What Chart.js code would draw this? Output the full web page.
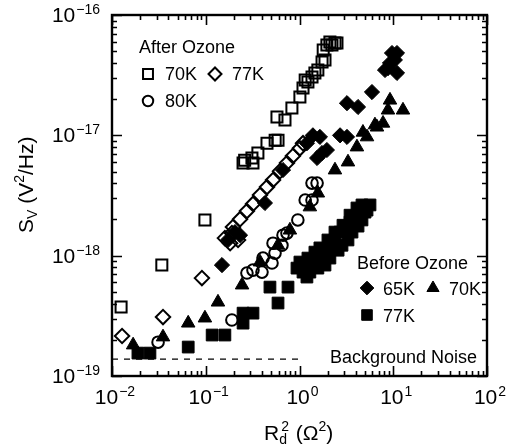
<!DOCTYPE html>
<html>
<head>
<meta charset="utf-8">
<script src="https://cdn.jsdelivr.net/npm/chart.js@4/dist/chart.umd.min.js"></script>
<style>
html, body { margin: 0; padding: 0; background: #fff; }
</style>
</head>
<body>
<canvas id="myChart" width="506" height="446"></canvas>
<script>
'use strict'

// After ozone, 70K (open squares)
const after70x = [0.0125, 0.034, 0.098, 0.25, 0.26, 0.311, 0.319, 0.36, 0.45, 0.55, 0.59, 0.575, 0.70, 0.83, 1.01, 1.09, 1.15, 1.23, 1.36, 1.46, 1.57, 1.74, 1.87, 1.79, 1.96, 2.11, 2.22, 2.39, 2.51];
const after70y = [3.74e-19, 8.35e-19, 1.98e-18, 5.89e-18, 6.2e-18, 6.48e-18, 5.89e-18, 7.13e-18, 8.6e-18, 9.1e-18, 9.1e-18, 1.42e-17, 1.34e-17, 1.69e-17, 2.08e-17, 2.47e-17, 2.88e-17, 2.77e-17, 3.05e-17, 3.30e-17, 3.49e-17, 4.06e-17, 4.23e-17, 5.12e-17, 5.64e-17, 5.97e-17, 5.64e-17, 5.85e-17, 5.85e-17];

// After ozone, 77K (open diamonds)
const after77x = [0.0128, 0.035, 0.091, 0.16, 0.182, 0.19, 0.195, 0.221, 0.232, 0.275, 0.319, 0.379, 0.45, 0.522, 0.62, 0.735, 0.85, 1.01, 1.09];
const after77y = [2.15e-19, 3.09e-19, 6.51e-19, 1.40e-18, 1.27e-18, 1.54e-18, 1.73e-18, 1.35e-18, 2.01e-18, 2.35e-18, 2.69e-18, 3.19e-18, 3.72e-18, 4.25e-18, 5.04e-18, 5.89e-18, 6.73e-18, 7.8e-18, 8.6e-18];

// After ozone, 80K (open circles)
const after80x = [0.031, 0.19, 0.275, 0.319, 0.398, 0.408, 0.509, 0.522, 0.548, 0.65, 0.667, 0.735, 0.96, 1.15, 1.36, 1.36, 1.54];
const after80y = [1.91e-19, 2.92e-19, 7.17e-19, 7.59e-19, 7.3e-19, 9.55e-19, 8.68e-19, 1.27e-18, 1.05e-18, 1.22e-18, 1.48e-18, 1.54e-18, 1.98e-18, 2.90e-18, 2.90e-18, 4.01e-18, 4.01e-18];

// Before ozone, 65K (filled diamonds)
const before65x = [0.149, 0.173, 0.205, 0.232, 0.428, 0.667, 1.20, 1.39, 1.65, 1.54, 1.96, 1.74, 2.71, 3.21, 3.21, 4.21, 5.93, 8.17, 9.23, 10.96, 9.70, 10.96, 8.79, 10.4];
const before65y = [8.35e-19, 1.35e-18, 1.57e-18, 1.48e-18, 2.74e-18, 5.15e-18, 8.6e-18, 1.0e-17, 9.7e-18, 6.48e-18, 7.55e-18, 7.13e-18, 1.0e-17, 9.7e-18, 1.85e-17, 1.72e-17, 2.29e-17, 3.49e-17, 3.99e-17, 3.30e-17, 4.83e-17, 4.83e-17, 3.62e-17, 4.23e-17];

// Before ozone, 70K (filled triangles)
const before70x = [0.0168, 0.035, 0.065, 0.098, 0.135, 0.244, 0.379, 0.59, 0.79, 1.29, 1.57, 2.39, 3.29, 4.10, 4.75, 5.25, 6.38, 6.71, 7.78, 9.23, 8.79, 12.7];
const before70y = [1.81e-19, 2.11e-19, 2.75e-19, 3.03e-19, 4.11e-19, 5.70e-19, 8.85e-19, 1.22e-18, 1.63e-18, 2.54e-18, 3.31e-18, 5.15e-18, 6.0e-18, 8.0e-18, 1.06e-17, 9.7e-18, 1.22e-17, 1.17e-17, 1.26e-17, 1.96e-17, 1.62e-17, 1.62e-17];

// Before ozone, 77K (filled squares)
const before77x = [0.0189, 0.0254, 0.065, 0.117, 0.160, 0.25, 0.319, 0.25, 0.484, 0.59, 0.754, 0.94, 1.09, 1.29, 1.20, 1.15, 1.36, 1.57, 1.57, 1.74, 1.87, 1.96, 2.11, 2.22, 2.39, 2.58, 2.71, 2.84, 3.06, 3.29, 3.46, 3.63, 3.91, 4.21, 4.42, 4.64, 5.0, 5.25, 5.65,
                   1.01, 1.23, 1.46, 1.65, 2.01, 2.39, 2.91, 3.46, 4.10, 4.64];
const before77y = [1.55e-19, 1.55e-19, 1.74e-19, 2.19e-19, 2.19e-19, 3.33e-19, 3.33e-19, 2.75e-19, 5.48e-19, 4.04e-19, 5.48e-19, 7.88e-19, 7.3e-19, 7.3e-19, 6.64e-19, 8.35e-19, 8.85e-19, 9.55e-19, 7.88e-19, 9.9e-19, 8.35e-19, 1.11e-18, 9.55e-19, 1.22e-18, 1.35e-18, 1.11e-18, 1.57e-18, 1.22e-18, 1.70e-18, 1.35e-18, 1.90e-18, 1.57e-18, 2.05e-18, 1.76e-18, 2.26e-18, 1.98e-18, 2.30e-18, 2.39e-18, 2.64e-18,
                   8.85e-19, 9.55e-19, 1.07e-18, 1.16e-18, 1.35e-18, 1.57e-18, 1.79e-18, 2.17e-18, 2.49e-18, 2.64e-18];

// Background noise level
const noiseX = [0.01, 1.0];
const noiseY = [1.38e-19, 1.38e-19];

// Tick labels (powers of ten)
const xTickVals = [0.01, 0.1, 1, 10, 100];
const xTickExp = ['\u22122', '\u22121', '0', '1', '2'];
const yTickVals = [1e-19, 1e-18, 1e-17, 1e-16];
const yTickExp = ['\u221219', '\u221218', '\u221217', '\u221216'];

const FONT = '"Liberation Sans", Arial, Helvetica, sans-serif';

const pts = (xs, ys) => xs.map((x, i) => ({x: x, y: ys[i]}));
const CLEAR = 'rgba(0,0,0,0)';

const seriesStyle = {
  after70:  {pointStyle: 'rect',     radius: 7.8, fill: CLEAR,  border: 2},
  after77:  {pointStyle: 'rectRot',  radius: 7.2, fill: CLEAR,  border: 2},
  after80:  {pointStyle: 'circle',   radius: 5.8, fill: CLEAR,  border: 2},
  before65: {pointStyle: 'rectRot',  radius: 7.6, fill: '#000', border: 1},
  before70: {pointStyle: 'triangle', radius: 7.8, fill: '#000', border: 1},
  before77: {pointStyle: 'rect',     radius: 8.3, fill: '#000', border: 1}
};

const mkSet = (key, xs, ys) => {
  const s = seriesStyle[key];
  return {
    label: key,
    data: pts(xs, ys),
    pointStyle: s.pointStyle,
    pointRadius: s.radius,
    pointHoverRadius: s.radius,
    pointBackgroundColor: s.fill,
    pointBorderColor: '#000',
    pointBorderWidth: s.border,
    showLine: false
  };
};

const drawPow = (ctx, x, y, exp, align, big, small) => {
  ctx.font = big + 'px ' + FONT;
  const wb = ctx.measureText('10').width;
  ctx.font = small + 'px ' + FONT;
  const we = ctx.measureText(exp).width;
  const tot = wb + we + 1;
  let x0 = x;
  if (align === 'center') x0 = x - tot / 2;
  if (align === 'right') x0 = x - tot;
  ctx.textAlign = 'left';
  ctx.textBaseline = 'alphabetic';
  ctx.font = big + 'px ' + FONT;
  ctx.fillText('10', x0, y);
  ctx.font = small + 'px ' + FONT;
  ctx.fillText(exp, x0 + wb + 1, y - 8);
};

const marker = (ctx, key, x, y) => {
  const s = seriesStyle[key];
  ctx.save();
  ctx.fillStyle = s.fill;
  ctx.strokeStyle = '#000';
  ctx.lineWidth = s.border;
  Chart.helpers.drawPoint(ctx, {pointStyle: s.pointStyle, radius: s.radius * 0.9, rotation: 0, borderWidth: s.border}, x, y);
  ctx.restore();
};

const framePlugin = {
  id: 'frame',
  beforeDatasetsDraw(chart) {
    const {ctx, chartArea: a, scales: {x, y}} = chart;
    ctx.save();
    ctx.strokeStyle = '#000';
    ctx.lineWidth = 1.6;
    // minor / major ticks, inward on all four sides
    ctx.beginPath();
    for (let d = 0; d < xTickVals.length; d++) {
      for (let m = 1; m < 10; m++) {
        const v = xTickVals[d] * m;
        if (v > xTickVals[xTickVals.length - 1]) break;
        const px = Math.round(x.getPixelForValue(v)) + 0.5;
        const len = m === 1 ? 10 : 5;
        ctx.moveTo(px, a.bottom); ctx.lineTo(px, a.bottom - len);
        ctx.moveTo(px, a.top); ctx.lineTo(px, a.top + len);
      }
    }
    for (let d = 0; d < yTickVals.length; d++) {
      for (let m = 1; m < 10; m++) {
        const v = yTickVals[d] * m;
        if (v > yTickVals[yTickVals.length - 1] * 1.0001) break;
        const py = Math.round(y.getPixelForValue(v)) + 0.5;
        const len = m === 1 ? 10 : 5;
        ctx.moveTo(a.left, py); ctx.lineTo(a.left + len, py);
        ctx.moveTo(a.right, py); ctx.lineTo(a.right - len, py);
      }
    }
    ctx.stroke();
    ctx.lineWidth = 2.4;
    ctx.strokeRect(a.left, a.top, a.right - a.left, a.bottom - a.top);

    ctx.fillStyle = '#000';
    // tick labels
    for (let i = 0; i < xTickVals.length; i++) {
      drawPow(ctx, x.getPixelForValue(xTickVals[i]) + 3, a.bottom + 28, xTickExp[i], 'center', 21, 14);
    }
    for (let i = 0; i < yTickVals.length; i++) {
      drawPow(ctx, 100, y.getPixelForValue(yTickVals[i]) + 7, yTickExp[i], 'right', 21, 14);
    }

    // x axis title: R_d^2 (Ω^2)
    let tx = 264, ty = 440;
    ctx.textAlign = 'left';
    ctx.font = '21px ' + FONT;
    ctx.fillText('R', tx, ty); tx += ctx.measureText('R').width;
    ctx.font = '14px ' + FONT;
    ctx.fillText('d', tx, ty + 4);
    ctx.fillText('2', tx + 2, ty - 9); tx += ctx.measureText('d').width + 3;
    ctx.font = '21px ' + FONT;
    ctx.fillText(' (\u03a9', tx, ty); tx += ctx.measureText(' (\u03a9').width;
    ctx.font = '14px ' + FONT;
    ctx.fillText('2', tx, ty - 9); tx += ctx.measureText('2').width;
    ctx.font = '21px ' + FONT;
    ctx.fillText(')', tx, ty);

    // y axis title: S_V (V^2/Hz)
    ctx.save();
    ctx.translate(33, 233);
    ctx.rotate(-Math.PI / 2);
    let sx = 0;
    ctx.font = '21px ' + FONT;
    ctx.fillText('S', sx, 0); sx += ctx.measureText('S').width;
    ctx.font = '14px ' + FONT;
    ctx.fillText('V', sx, 4); sx += ctx.measureText('V').width;
    ctx.font = '21px ' + FONT;
    ctx.fillText(' (V', sx, 0); sx += ctx.measureText(' (V').width;
    ctx.font = '14px ' + FONT;
    ctx.fillText('2', sx, -9); sx += ctx.measureText('2').width;
    ctx.font = '21px ' + FONT;
    ctx.fillText('/Hz)', sx, 0);
    ctx.restore();

    // legends
    ctx.font = '18px ' + FONT;
    ctx.fillText('After Ozone', 139, 53);
    marker(ctx, 'after70', 148, 74);
    ctx.fillText('70K', 165, 80);
    marker(ctx, 'after77', 215, 74);
    ctx.fillText('77K', 232, 80);
    marker(ctx, 'after80', 148, 101);
    ctx.fillText('80K', 165, 107);

    ctx.fillText('Before Ozone', 357, 269);
    marker(ctx, 'before65', 367, 288);
    ctx.fillText('65K', 383, 295);
    marker(ctx, 'before70', 433, 288);
    ctx.fillText('70K', 449, 295);
    marker(ctx, 'before77', 367, 315);
    ctx.fillText('77K', 383, 322);

    ctx.fillText('Background Noise', 330, 363);
    ctx.restore();
  }
};

let noiseChart;

const DocumentReady = () => {
  const dashSection = document.getElementById('myChart');
  const data = {
    datasets: [
      {
        type: 'line',
        label: 'noise',
        data: pts(noiseX, noiseY),
        borderColor: '#000',
        borderWidth: 1.4,
        borderDash: [6, 6],
        pointRadius: 0,
        fill: false
      },
      mkSet('after70', after70x, after70y),
      mkSet('after77', after77x, after77y),
      mkSet('after80', after80x, after80y),
      mkSet('before65', before65x, before65y),
      mkSet('before70', before70x, before70y),
      mkSet('before77', before77x, before77y)
    ]
  };

  noiseChart = new Chart(dashSection, {
    type: 'scatter',
    data: data,
    plugins: [framePlugin],
    options: {
      responsive: false,
      animation: false,
      layout: {padding: {left: 112, right: 19, top: 15, bottom: 70}},
      plugins: {legend: {display: false}, tooltip: {enabled: false}},
      scales: {
        x: {type: 'logarithmic', min: 0.01, max: 100, display: false},
        y: {type: 'logarithmic', min: 1e-19, max: 1e-16, display: false}
      }
    }
  });
};

document.addEventListener('DOMContentLoaded', DocumentReady);
</script>
</body>
</html>
